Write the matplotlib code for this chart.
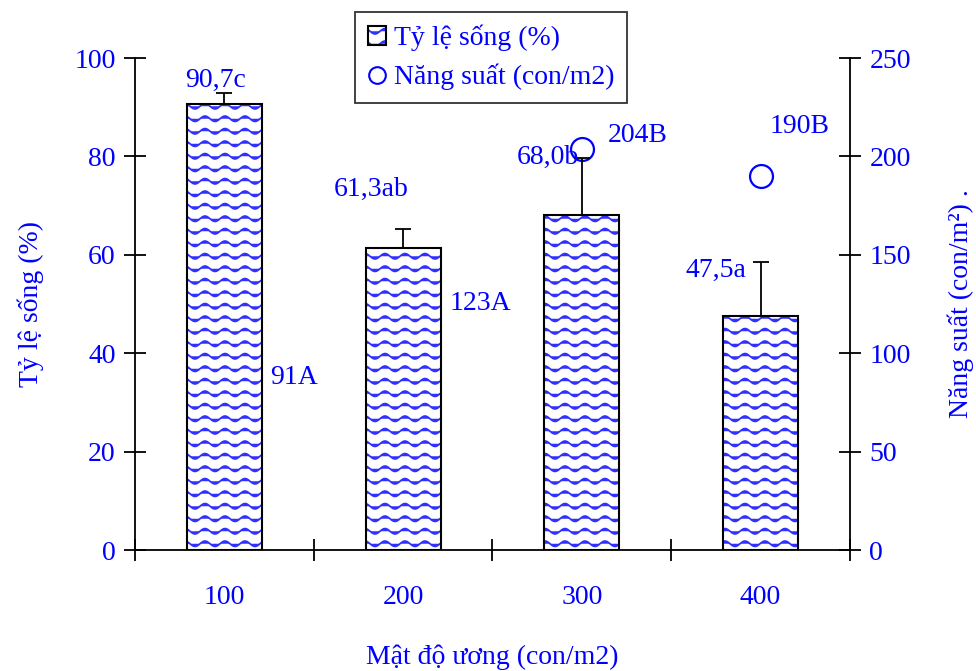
import warnings
import numpy as np
import matplotlib
matplotlib.use('Agg')
import matplotlib.pyplot as plt
import matplotlib.hatch as mhatch
from matplotlib.patches import Patch
from matplotlib.lines import Line2D
from matplotlib.legend_handler import HandlerTuple

warnings.filterwarnings('ignore')

# Dados.
mat_do = ['100', '200', '300', '400']
ty_le_song = [90.7, 61.3, 68.0, 47.5]
sai_so = [2.2, 3.9, 11.7, 11.0]
nang_suat = [91, 123, 204, 190]
nhan_ty_le = ['90,7c', '61,3ab', '68,0b', '47,5a']
nhan_nang_suat = ['91A', '123A', '204B', '190B']

# Posição dos rótulos (x, y no eixo esquerdo).
pos_ty_le = [(-0.05, 95.5), (0.82, 73.2), (1.81, 79.9), (2.75, 56.9)]
pos_nang_suat = [(0.39, 35.0), (1.43, 50.2), (2.31, 84.3), (3.22, 86.0)]

azul = '#0000FF'
cor_hachura = '#3030ff'
fonte = 'Liberation Serif'
tam = 20


# Hachura ondulada personalizada ('~').
class WaveHatch(mhatch.HatchPatternBase):
    def __init__(self, hatch, density):
        self.num_rows = 8 if '~' in hatch else 0
        self.num_pts = 121
        self.num_vertices = self.num_rows * self.num_pts

    def set_vertices_and_codes(self, vertices, codes):
        t = np.linspace(0, 1, self.num_pts)
        for i in range(self.num_rows):
            y0 = (i + 0.5) / self.num_rows
            v = vertices[i * self.num_pts:(i + 1) * self.num_pts]
            v[:, 0] = t
            v[:, 1] = y0 + 0.027 * np.sin(2 * np.pi * 5 * t)
            c = codes[i * self.num_pts:(i + 1) * self.num_pts]
            c[:] = mhatch.Path.LINETO
            c[0] = mhatch.Path.MOVETO


mhatch._hatch_types.append(WaveHatch)

plt.rcParams['font.family'] = fonte
plt.rcParams['hatch.linewidth'] = 1.25

fig = plt.figure(figsize=(9.76, 6.71), dpi=100)
ax1 = fig.add_axes([0.1383, 0.1803, 0.7326, 0.7332])
ax2 = ax1.twinx()

x = np.arange(len(mat_do))

# Barras: hachura azul e contorno preto.
ax1.bar(x, ty_le_song, width=0.42, color='white', edgecolor=cor_hachura,
        hatch='~', linewidth=0, zorder=2)
ax1.bar(x, ty_le_song, width=0.42, fill=False, edgecolor='black',
        linewidth=1.5, zorder=3)
ax1.errorbar(x, ty_le_song, yerr=[[0] * 4, sai_so], fmt='none',
             ecolor='black', elinewidth=1.3, capsize=6, capthick=1.3, zorder=1)

# Pontos de produtividade no eixo direito.
ax2.plot(x, nang_suat, 'o', markersize=16.5, markerfacecolor='white',
         markeredgecolor=azul, markeredgewidth=1.6, zorder=5)

for txt, (px, py) in zip(nhan_ty_le, pos_ty_le):
    ax1.text(px, py, txt, color=azul, fontsize=tam, ha='center', va='center')
for txt, (px, py) in zip(nhan_nang_suat, pos_nang_suat):
    ax1.text(px, py, txt, color=azul, fontsize=tam, ha='center', va='center', zorder=6)

# Eixo x.
ax1.set_xlim(-0.5, 3.5)
ax1.set_xticks(x)
ax1.set_xticklabels(mat_do)
ax1.set_xticks(np.arange(-0.5, 4, 1), minor=True)
ax1.tick_params(axis='x', which='major', length=0, pad=25, labelsize=tam, labelcolor=azul)
ax1.tick_params(axis='x', which='minor', direction='inout', length=16, width=1.3)
ax1.set_xlabel('Mật độ ương (con/m2)', fontsize=tam, color=azul, labelpad=25)

# Eixo y esquerdo.
ax1.set_ylim(0, 100)
ax1.set_yticks([0, 20, 40, 60, 80, 100])
ax1.tick_params(axis='y', direction='inout', length=16, width=1.3, pad=6,
                labelsize=tam, labelcolor=azul)
ax1.set_ylabel('Tỷ lệ sống (%)', fontsize=tam, color=azul, labelpad=22)

# Eixo y direito.
ax2.set_ylim(0, 250)
ax2.set_yticks([0, 50, 100, 150, 200, 250])
ax2.tick_params(axis='y', direction='inout', length=16, width=1.3, pad=6,
                labelsize=tam, labelcolor=azul)
ax2.set_ylabel('Năng suất (con/m²) .', fontsize=tam, color=azul, labelpad=26)

for ax in (ax1, ax2):
    ax.spines['top'].set_visible(False)
    for s in ('left', 'right', 'bottom'):
        ax.spines[s].set_linewidth(1.3)
ax1.spines['right'].set_visible(False)
ax2.spines['left'].set_visible(False)
ax2.spines['bottom'].set_visible(False)
ax1.set_zorder(ax2.get_zorder() + 1)
ax1.patch.set_visible(False)

# Legenda.
leg_barra = (Patch(facecolor='white', edgecolor=cor_hachura, hatch='~', linewidth=0),
             Patch(fill=False, edgecolor='black', linewidth=1.5))
leg_ponto = Line2D([], [], marker='o', linestyle='none', markersize=12,
                   markerfacecolor='white', markeredgecolor=azul, markeredgewidth=1.5)
leg = fig.legend([leg_barra, leg_ponto], ['Tỷ lệ sống (%)', 'Năng suất (con/m2)'],
                 handler_map={tuple: HandlerTuple(ndivide=1, pad=0)},
                 loc='upper left', bbox_to_anchor=(0.364, 0.982), fontsize=tam,
                 frameon=True, fancybox=False, edgecolor='black',
                 handlelength=0.65, handleheight=0.65, handletextpad=0.3,
                 borderpad=0.45, labelspacing=0.45, borderaxespad=0)
leg.get_frame().set_linewidth(1.3)
for t in leg.get_texts():
    t.set_color(azul)

plt.savefig('out.png', dpi=100)
